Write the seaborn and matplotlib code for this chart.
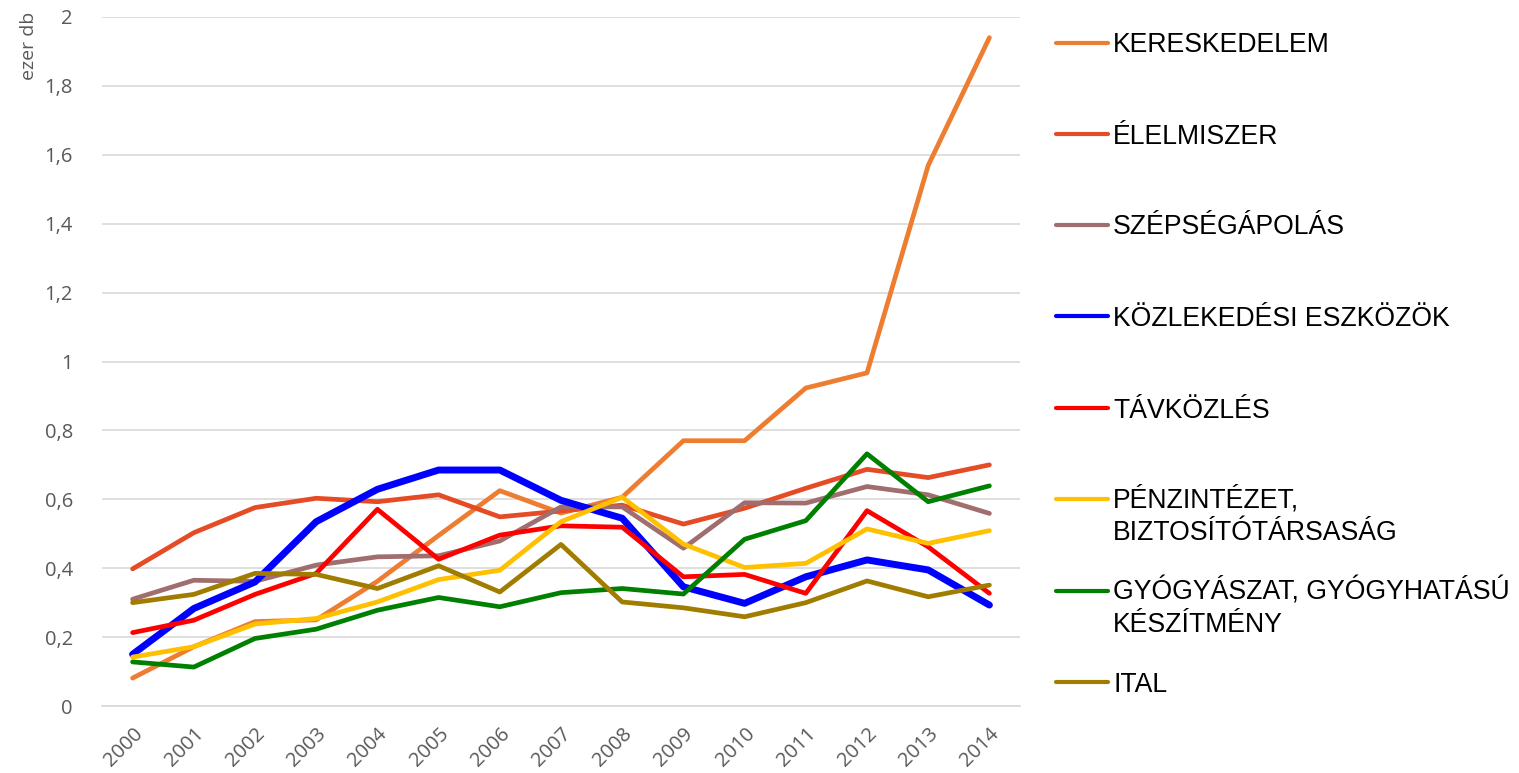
import numpy as np
import pandas as pd
import matplotlib
matplotlib.use("Agg")
import matplotlib.pyplot as plt
from matplotlib.lines import Line2D
import seaborn as sns

# adatok (ezer db)
years = [str(y) for y in range(2000, 2015)]
series_names = [
    "KERESKEDELEM",
    "ÉLELMISZER",
    "SZÉPSÉGÁPOLÁS",
    "KÖZLEKEDÉSI ESZKÖZÖK",
    "TÁVKÖZLÉS",
    "PÉNZINTÉZET,\nBIZTOSÍTÓTÁRSASÁG",
    "GYÓGYÁSZAT, GYÓGYHATÁSÚ\nKÉSZÍTMÉNY",
    "ITAL",
]
kereskedelem = [0.081, 0.172, 0.245, 0.250, 0.362, 0.495, 0.625, 0.560, 0.606, 0.770, 0.770, 0.923, 0.967, 1.569, 1.940]
elelmiszer = [0.398, 0.503, 0.576, 0.603, 0.593, 0.613, 0.549, 0.566, 0.583, 0.528, 0.574, 0.632, 0.687, 0.663, 0.700]
szepsegapolas = [0.310, 0.365, 0.362, 0.409, 0.433, 0.436, 0.479, 0.578, 0.578, 0.458, 0.590, 0.589, 0.637, 0.613, 0.559]
kozlekedes = [0.150, 0.283, 0.360, 0.535, 0.629, 0.685, 0.685, 0.597, 0.545, 0.346, 0.298, 0.375, 0.424, 0.395, 0.293]
tavkozles = [0.213, 0.249, 0.324, 0.385, 0.571, 0.426, 0.496, 0.523, 0.519, 0.375, 0.382, 0.327, 0.567, 0.462, 0.327]
penzintezet = [0.142, 0.172, 0.238, 0.254, 0.302, 0.367, 0.394, 0.535, 0.606, 0.470, 0.402, 0.414, 0.514, 0.472, 0.509]
gyogyaszat = [0.128, 0.113, 0.196, 0.223, 0.278, 0.315, 0.288, 0.329, 0.341, 0.325, 0.484, 0.538, 0.732, 0.593, 0.639]
ital = [0.300, 0.324, 0.385, 0.382, 0.341, 0.407, 0.331, 0.469, 0.302, 0.285, 0.259, 0.300, 0.363, 0.317, 0.351]

values = [kereskedelem, elelmiszer, szepsegapolas, kozlekedes, tavkozles, penzintezet, gyogyaszat, ital]
colors = ["#ED7D31", "#E54B25", "#A06E6E", "#0000FF", "#FF0000", "#FFC000", "#008000", "#A07C00"]
widths = [3.4, 3.4, 3.4, 5.0, 3.4, 3.4, 3.4, 3.4]

W, H = 1519, 773

sns.set_style("white")
plt.rcParams["font.family"] = ["Open Sans", "DejaVu Sans"]

fig = plt.figure(figsize=(W / 100, H / 100), dpi=100)
ax = fig.add_axes([102 / W, 1 - 706 / H, (1020 - 102) / W, (706 - 17) / H])

df = pd.DataFrame({"ev": list(range(len(years))) * len(series_names),
                   "ertek": sum(values, []),
                   "kategoria": np.repeat(series_names, len(years))})

for name, col, lw in zip(series_names, colors, widths):
    sub = df[df["kategoria"] == name]
    sns.lineplot(data=sub, x="ev", y="ertek", ax=ax, color=col, linewidth=lw,
                 solid_capstyle="round", solid_joinstyle="round", legend=False)

ax.set_xlim(-0.5, len(years) - 0.5)
ax.set_ylim(0, 2)
ax.set_xlabel("")
ax.set_ylabel("")

yt = np.round(np.arange(0, 2.01, 0.2), 1)
ax.set_yticks(yt)
ax.set_yticklabels([("%g" % v).replace(".", ",") for v in yt], fontsize=14.5, color="#595959")
ax.yaxis.grid(True, color="#D9D9D9", linewidth=1.2)
ax.set_axisbelow(True)

ax.set_xticks(range(len(years)))
ax.set_xticklabels(years, rotation=45, ha="right", rotation_mode="anchor",
                   fontsize=14.5, color="#595959")
ax.set_xticks(np.arange(-0.5, len(years)), minor=True)
ax.tick_params(axis="x", which="major", length=0, pad=13)
ax.tick_params(axis="x", which="minor", length=7, width=1.2, color="#D9D9D9", direction="out")
ax.tick_params(axis="y", length=0, pad=21)

for s in ["left", "right", "top"]:
    ax.spines[s].set_visible(False)
ax.spines["bottom"].set_color("#D9D9D9")
ax.spines["bottom"].set_linewidth(1.2)

fig.text(29 / W, 1 - 12 / H, "ezer db", rotation=90, ha="center", va="top",
         fontsize=14, color="#595959")

# jelmagyarázat
legend_y = [43, 134, 225, 316, 408, 499, 591, 682]
for name, col, y in zip(series_names, colors, legend_y):
    fig.add_artist(Line2D([1056 / W, 1108 / W], [1 - y / H, 1 - y / H], color=col,
                          linewidth=3.0, solid_capstyle="round",
                          transform=fig.transFigure))
    extra = 31 * name.count("\n")
    fig.text(1113 / W, 1 - (y + 9.5 + extra) / H, name, ha="left", va="baseline",
             fontsize=19.2, family=["Liberation Sans", "DejaVu Sans"],
             color="#000000", linespacing=1.3)

fig.savefig("out.png", dpi=100)
